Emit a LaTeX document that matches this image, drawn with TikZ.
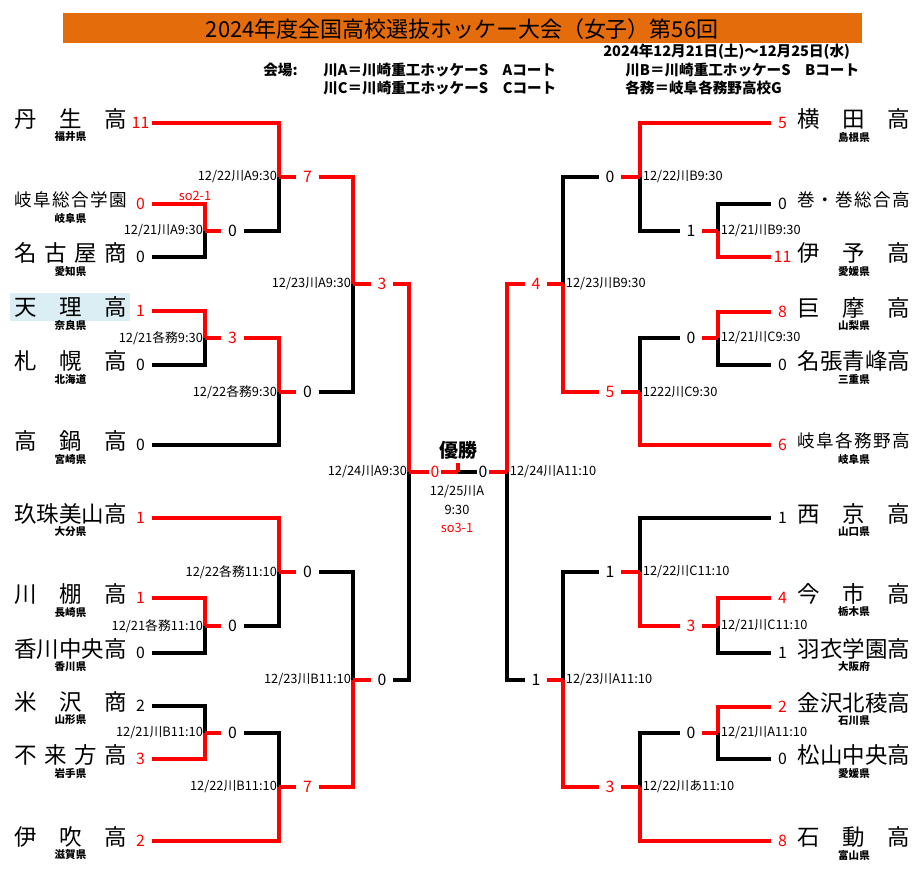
\documentclass[tikz,border=0pt]{standalone}
\usepackage{fontspec}
\setmainfont{Noto Sans CJK JP}
\usepackage{tikz}
\usetikzlibrary{calc}

\definecolor{barorange}{RGB}{228,108,10}
\definecolor{hilite}{RGB}{218,238,243}
\newcommand{\jname}[1]{\makebox[2.26cm][s]{#1}}
\newcommand{\smallname}{\fontsize{10}{10}\selectfont}

\tikzset{
  win/.style={draw=red, line width=2.1pt},
  lose/.style={draw=black, line width=2.1pt},
  team/.style={inner sep=0pt, font=\fontsize{12.8}{13}\selectfont},
  pref/.style={inner sep=0pt, font=\fontsize{6}{6}\selectfont\bfseries},
  score/.style={inner sep=0pt, minimum width=0.43cm, font=\fontsize{9}{9}\selectfont},
  wscore/.style={score, text=red},
  fin/.style={score, minimum width=0.23cm},
  lbl/.style={inner sep=0pt, font=\fontsize{7.3}{8}\selectfont},
  hdr/.style={inner sep=0pt, anchor=west, font=\fontsize{8.3}{9}\selectfont\bfseries},
}

\begin{document}
\begin{tikzpicture}[x=0.02cm,y=-0.02cm]
        \useasboundingbox (0,0) rectangle (923,872);

        \fill[barorange] (63,13) rectangle (862,43);
        \node[inner sep=0pt, font=\fontsize{12.5}{13}\selectfont] (title) at (462,29) {2024年度全国高校選抜ホッケー大会（女子）第56回};
        \node[hdr] (dates) at (603,52) {2024年12月21日(土)～12月25日(水)};
        \node[hdr] (venue) at (263,70) {会場:};
        \node[hdr] (courtA) at (323,70) {川A＝川崎重工ホッケーS　Aコート};
        \node[hdr] (courtB) at (625,70) {川B＝川崎重工ホッケーS　Bコート};
        \node[hdr] (courtC) at (323,88) {川C＝川崎重工ホッケーS　Cコート};
        \node[hdr] (courtK) at (625,88) {各務＝岐阜各務野高校G};

        \fill[hilite] (10,293) rectangle (130,321);

        \node[team] (nL1) at (70.5,119) {\jname{丹\hfil 生\hfil 高}};
        \node[pref] (pL1) at (70.5,137) {福井県};
        \node[wscore] (sL1) at (140.5,123) {11};
        \node[team] (nL2) at (70.5,200) {\jname{\smallname 岐\hfil 阜\hfil 総\hfil 合\hfil 学\hfil 園}};
        \node[pref] (pL2) at (70.5,218) {岐阜県};
        \node[wscore] (sL2) at (140.5,204) {0};
        \node[team] (nL3) at (70.5,253) {\jname{名\hfil 古\hfil 屋\hfil 商}};
        \node[pref] (pL3) at (70.5,271) {愛知県};
        \node[score] (sL3) at (140.5,257) {0};
        \node[team] (nL4) at (70.5,307) {\jname{天\hfil 理\hfil 高}};
        \node[pref] (pL4) at (70.5,325) {奈良県};
        \node[wscore] (sL4) at (140.5,311) {1};
        \node[team] (nL5) at (70.5,361) {\jname{札\hfil 幌\hfil 高}};
        \node[pref] (pL5) at (70.5,379) {北海道};
        \node[score] (sL5) at (140.5,365) {0};
        \node[team] (nL6) at (70.5,441) {\jname{高\hfil 鍋\hfil 高}};
        \node[pref] (pL6) at (70.5,459) {宮崎県};
        \node[score] (sL6) at (140.5,445) {0};
        \node[team] (nL7) at (70.5,514) {\jname{玖\hfil 珠\hfil 美\hfil 山\hfil 高}};
        \node[pref] (pL7) at (70.5,532) {大分県};
        \node[wscore] (sL7) at (140.5,518) {1};
        \node[team] (nL8) at (70.5,594) {\jname{川\hfil 棚\hfil 高}};
        \node[pref] (pL8) at (70.5,612) {長崎県};
        \node[wscore] (sL8) at (140.5,598) {1};
        \node[team] (nL9) at (70.5,649) {\jname{香\hfil 川\hfil 中\hfil 央\hfil 高}};
        \node[pref] (pL9) at (70.5,667) {香川県};
        \node[score] (sL9) at (140.5,653) {0};
        \node[team] (nL10) at (70.5,702) {\jname{米\hfil 沢\hfil 商}};
        \node[pref] (pL10) at (70.5,720) {山形県};
        \node[score] (sL10) at (140.5,706) {2};
        \node[team] (nL11) at (70.5,755) {\jname{不\hfil 来\hfil 方\hfil 高}};
        \node[pref] (pL11) at (70.5,773) {岩手県};
        \node[wscore] (sL11) at (140.5,759) {3};
        \node[team] (nL12) at (70.5,837) {\jname{伊\hfil 吹\hfil 高}};
        \node[pref] (pL12) at (70.5,855) {滋賀県};
        \node[wscore] (sL12) at (140.5,841) {2};

        \node[team] (nR1) at (854,119) {\jname{横\hfil 田\hfil 高}};
        \node[pref] (pR1) at (854,137) {島根県};
        \node[wscore] (sR1) at (782.5,123) {5};
        \node[team] (nR2) at (854,200) {\jname{\smallname 巻\hfil ・\hfil 巻\hfil 総\hfil 合\hfil 高}};
        \node[score] (sR2) at (782.5,204) {0};
        \node[team] (nR3) at (854,253) {\jname{伊\hfil 予\hfil 高}};
        \node[pref] (pR3) at (854,271) {愛媛県};
        \node[wscore] (sR3) at (782.5,257) {11};
        \node[team] (nR4) at (854,308) {\jname{巨\hfil 摩\hfil 高}};
        \node[pref] (pR4) at (854,326) {山梨県};
        \node[wscore] (sR4) at (782.5,312) {8};
        \node[team] (nR5) at (854,361) {\jname{名\hfil 張\hfil 青\hfil 峰\hfil 高}};
        \node[pref] (pR5) at (854,379) {三重県};
        \node[score] (sR5) at (782.5,365) {0};
        \node[team] (nR6) at (854,441) {\jname{\smallname 岐\hfil 阜\hfil 各\hfil 務\hfil 野\hfil 高}};
        \node[pref] (pR6) at (854,459) {岐阜県};
        \node[wscore] (sR6) at (782.5,445) {6};
        \node[team] (nR7) at (854,514) {\jname{西\hfil 京\hfil 高}};
        \node[pref] (pR7) at (854,532) {山口県};
        \node[score] (sR7) at (782.5,518) {1};
        \node[team] (nR8) at (854,594) {\jname{今\hfil 市\hfil 高}};
        \node[pref] (pR8) at (854,612) {栃木県};
        \node[wscore] (sR8) at (782.5,598) {4};
        \node[team] (nR9) at (854,649) {\jname{羽\hfil 衣\hfil 学\hfil 園\hfil 高}};
        \node[pref] (pR9) at (854,667) {大阪府};
        \node[score] (sR9) at (782.5,653) {1};
        \node[team] (nR10) at (854,703) {\jname{金\hfil 沢\hfil 北\hfil 稜\hfil 高}};
        \node[pref] (pR10) at (854,721) {石川県};
        \node[wscore] (sR10) at (782.5,707) {2};
        \node[team] (nR11) at (854,755) {\jname{松\hfil 山\hfil 中\hfil 央\hfil 高}};
        \node[pref] (pR11) at (854,773) {愛媛県};
        \node[score] (sR11) at (782.5,759) {0};
        \node[team] (nR12) at (854,837) {\jname{石\hfil 動\hfil 高}};
        \node[pref] (pR12) at (854,855) {富山県};
        \node[wscore] (sR12) at (782.5,841) {8};

        \coordinate (jL1) at (205,231);
        \coordinate (jL2) at (279,177);
        \coordinate (jL3) at (205,338);
        \coordinate (jL4) at (279,392);
        \coordinate (jL5) at (353,284);
        \coordinate (jL6) at (205,626);
        \coordinate (jL7) at (279,572);
        \coordinate (jL8) at (205,733);
        \coordinate (jL9) at (279,787);
        \coordinate (jL10) at (353,680);
        \coordinate (jLS) at (409,472);

        \node[score] (rL1) at (232.5,231) {0};
        \node[wscore] (rL2) at (307.5,177) {7};
        \node[wscore] (rL3) at (232.5,338) {3};
        \node[score] (rL4) at (307.5,392) {0};
        \node[wscore] (rL5) at (382,284) {3};
        \node[score] (rL6) at (232.5,626) {0};
        \node[score] (rL7) at (307.5,572) {0};
        \node[score] (rL8) at (232.5,733) {0};
        \node[wscore] (rL9) at (307.5,787) {7};
        \node[score] (rL10) at (382,680) {0};

        \coordinate (jR1) at (718,231);
        \coordinate (jR2) at (640,177);
        \coordinate (jR3) at (718,338);
        \coordinate (jR4) at (640,392);
        \coordinate (jR5) at (563,284);
        \coordinate (jR6) at (718,626);
        \coordinate (jR7) at (640,572);
        \coordinate (jR8) at (718,733);
        \coordinate (jR9) at (640,787);
        \coordinate (jR10) at (563,680);
        \coordinate (jRS) at (507,472);

        \node[score] (rR1) at (691,231) {1};
        \node[score] (rR2) at (610,177) {0};
        \node[score] (rR3) at (691,338) {0};
        \node[wscore] (rR4) at (610,392) {5};
        \node[wscore] (rR5) at (536,284) {4};
        \node[wscore] (rR6) at (691,626) {3};
        \node[score] (rR7) at (610,572) {1};
        \node[score] (rR8) at (691,733) {0};
        \node[wscore] (rR9) at (610,787) {3};
        \node[score] (rR10) at (536,680) {1};

        \node[fin, text=red] (fL) at (435,472) {0};
        \node[fin] (fR) at (483,472) {0};
        \coordinate (champ) at (458,472);
        \coordinate (champtop) at (458,463);

        \draw[win] (sL2.east) -| (jL1);
        \draw[lose] (sL3.east) -| (jL1);
        \draw[win] (jL1) -- (rL1.west);
        \draw[win] (sL1.east) -| (jL2);
        \draw[lose] (rL1.east) -| (jL2);
        \draw[win] (jL2) -- (rL2.west);
        \draw[win] (sL4.east) -| (jL3);
        \draw[lose] (sL5.east) -| (jL3);
        \draw[win] (jL3) -- (rL3.west);
        \draw[win] (rL3.east) -| (jL4);
        \draw[lose] (sL6.east) -| (jL4);
        \draw[win] (jL4) -- (rL4.west);
        \draw[win] (rL2.east) -| (jL5);
        \draw[lose] (rL4.east) -| (jL5);
        \draw[win] (jL5) -- (rL5.west);
        \draw[win] (sL8.east) -| (jL6);
        \draw[lose] (sL9.east) -| (jL6);
        \draw[win] (jL6) -- (rL6.west);
        \draw[win] (sL7.east) -| (jL7);
        \draw[lose] (rL6.east) -| (jL7);
        \draw[win] (jL7) -- (rL7.west);
        \draw[lose] (sL10.east) -| (jL8);
        \draw[win] (sL11.east) -| (jL8);
        \draw[win] (jL8) -- (rL8.west);
        \draw[lose] (rL8.east) -| (jL9);
        \draw[win] (sL12.east) -| (jL9);
        \draw[win] (jL9) -- (rL9.west);
        \draw[lose] (rL7.east) -| (jL10);
        \draw[win] (rL9.east) -| (jL10);
        \draw[win] (jL10) -- (rL10.west);
        \draw[win] (rL5.east) -| (jLS);
        \draw[lose] (rL10.east) -| (jLS);
        \draw[win] (jLS) -- (fL.west);

        \draw[lose] (sR2.west) -| (jR1);
        \draw[win] (sR3.west) -| (jR1);
        \draw[win] (jR1) -- (rR1.east);
        \draw[win] (sR1.west) -| (jR2);
        \draw[lose] (rR1.west) -| (jR2);
        \draw[win] (jR2) -- (rR2.east);
        \draw[win] (sR4.west) -| (jR3);
        \draw[lose] (sR5.west) -| (jR3);
        \draw[win] (jR3) -- (rR3.east);
        \draw[lose] (rR3.west) -| (jR4);
        \draw[win] (sR6.west) -| (jR4);
        \draw[win] (jR4) -- (rR4.east);
        \draw[lose] (rR2.west) -| (jR5);
        \draw[win] (rR4.west) -| (jR5);
        \draw[win] (jR5) -- (rR5.east);
        \draw[win] (sR8.west) -| (jR6);
        \draw[lose] (sR9.west) -| (jR6);
        \draw[win] (jR6) -- (rR6.east);
        \draw[lose] (sR7.west) -| (jR7);
        \draw[win] (rR6.west) -| (jR7);
        \draw[win] (jR7) -- (rR7.east);
        \draw[win] (sR10.west) -| (jR8);
        \draw[lose] (sR11.west) -| (jR8);
        \draw[win] (jR8) -- (rR8.east);
        \draw[lose] (rR8.west) -| (jR9);
        \draw[win] (sR12.west) -| (jR9);
        \draw[win] (jR9) -- (rR9.east);
        \draw[lose] (rR7.west) -| (jR10);
        \draw[win] (rR9.west) -| (jR10);
        \draw[win] (jR10) -- (rR10.east);
        \draw[win] (rR5.west) -| (jRS);
        \draw[lose] (rR10.west) -| (jRS);
        \draw[win] (jRS) -- (fR.east);

        \draw[lose] (champ) -- (fR.west);
        \draw[win] (fL.east) -- (champ);
        \draw[win] (champ) -- (champtop);

        \node[lbl, anchor=east, xshift=-1pt] (dL1) at (jL1) {12/21川A9:30};
        \node[lbl, text=red] (soL1) at (195,196) {so2-1};
        \node[lbl, anchor=east, xshift=-1pt] (dL2) at (jL2) {12/22川A9:30};
        \node[lbl, anchor=east, xshift=-1pt] (dL3) at (jL3) {12/21各務9:30};
        \node[lbl, anchor=east, xshift=-1pt] (dL4) at (jL4) {12/22各務9:30};
        \node[lbl, anchor=east, xshift=-1pt] (dL5) at (jL5) {12/23川A9:30};
        \node[lbl, anchor=east, xshift=-1pt] (dL6) at (jL6) {12/21各務11:10};
        \node[lbl, anchor=east, xshift=-1pt] (dL7) at (jL7) {12/22各務11:10};
        \node[lbl, anchor=east, xshift=-1pt] (dL8) at (jL8) {12/21川B11:10};
        \node[lbl, anchor=east, xshift=-1pt] (dL9) at (jL9) {12/22川B11:10};
        \node[lbl, anchor=east, xshift=-1pt] (dL10) at (jL10) {12/23川B11:10};
        \node[lbl, anchor=east, xshift=-1pt] (dLS) at (jLS) {12/24川A9:30};

        \node[lbl, anchor=west, xshift=1.5pt] (dR1) at (jR1) {12/21川B9:30};
        \node[lbl, anchor=west, xshift=1.5pt] (dR2) at (jR2) {12/22川B9:30};
        \node[lbl, anchor=west, xshift=1.5pt] (dR3) at (jR3) {12/21川C9:30};
        \node[lbl, anchor=west, xshift=1.5pt] (dR4) at (jR4) {1222川C9:30};
        \node[lbl, anchor=west, xshift=1.5pt] (dR5) at (jR5) {12/23川B9:30};
        \node[lbl, anchor=west, xshift=1.5pt] (dR6) at (jR6) {12/21川C11:10};
        \node[lbl, anchor=west, xshift=1.5pt] (dR7) at (jR7) {12/22川C11:10};
        \node[lbl, anchor=west, xshift=1.5pt] (dR8) at (jR8) {12/21川A11:10};
        \node[lbl, anchor=west, xshift=1.5pt] (dR9) at (jR9) {12/22川あ11:10};
        \node[lbl, anchor=west, xshift=1.5pt] (dR10) at (jR10) {12/23川A11:10};
        \node[lbl, anchor=west, xshift=1.5pt] (dRS) at (jRS) {12/24川A11:10};

        \node[inner sep=0pt, font=\fontsize{10.8}{11}\selectfont\bfseries] (winner) at (458,450) {優勝};
        \node[lbl] (fday) at (457,492) {12/25川A};
        \node[lbl] (ftime) at (457,510) {9:30};
        \node[lbl, text=red] (fso) at (457,528) {so3-1};
\end{tikzpicture}
\end{document}
